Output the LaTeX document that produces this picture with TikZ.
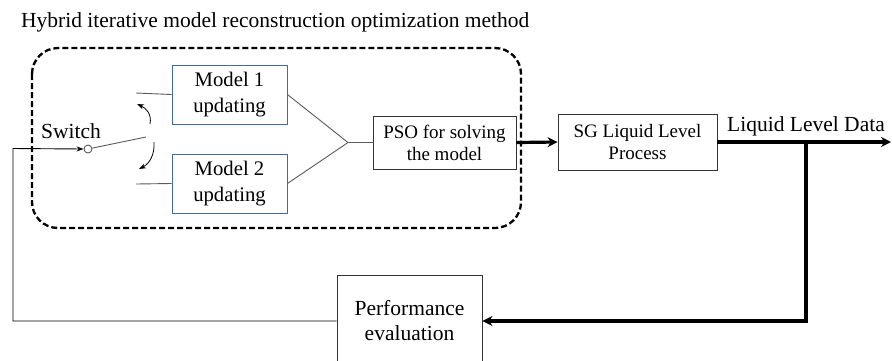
\documentclass[tikz,border=0pt]{standalone}
\usepackage{fontspec}
\setmainfont{Liberation Serif}
\usetikzlibrary{arrows.meta}
\definecolor{modelblue}{RGB}{68,104,176}
\definecolor{wiregray}{RGB}{90,90,90}
\tikzset{
  txt/.style={align=center, inner sep=0pt},
  bigtxt/.style={txt, font=\fontsize{21.5}{25}\selectfont},
  midtxt/.style={txt, font=\fontsize{20.7}{26}\selectfont},
  smalltxt/.style={txt, font=\fontsize{19}{22}\selectfont},
  blockbox/.style={draw=black!80, line width=0.9pt},
  modelbox/.style={draw=modelblue, line width=0.9pt, midtxt},
  wire/.style={draw=wiregray, line width=0.9pt},
  thickwire/.style={draw=black, line width=3.2pt},
  thinarrow/.style={-{Stealth[length=7pt,width=5pt]}},
  bigarrow/.style={-{Stealth[length=10pt,width=10pt]}},
}
\begin{document}
\begin{tikzpicture}[x=1pt,y=-1pt]
\useasboundingbox (0,0) rectangle (892,360);
\clip (0,0) rectangle (892,360);

% title
\node[bigtxt, anchor=west] (title) at (21,22) {Hybrid iterative model reconstruction optimization method};

% dashed frame around the optimization stage
\draw[line width=2.3pt, dash pattern=on 6pt off 3pt, rounded corners=26pt] (32,48) rectangle (521,228);

% blocks
\node[modelbox, minimum width=115pt, minimum height=59pt] (m1) at (229.5,94.5) {Model 1\\updating};
\node[modelbox, minimum width=115pt, minimum height=59pt] (m2) at (229.5,183.5) {Model 2\\updating};
\node[blockbox, smalltxt, minimum width=143pt, minimum height=53pt] (pso) at (444.5,142.5) {PSO for solving\\the model};
\node[blockbox, smalltxt, minimum width=159pt, minimum height=56pt] (sg) at (637.5,142) {SG Liquid Level\\Process};
\node[blockbox, bigtxt, minimum width=145pt, minimum height=92pt] (perf) at (409.5,321) {Performance\\evaluation};

% switch
\node[circle, draw=wiregray, line width=0.9pt, fill=white, minimum size=8pt, inner sep=0pt] (sw) at (88,149) {};
\node[bigtxt] (swlabel) at (71,131) {Switch};
\coordinate (lever) at (146,137);
\coordinate (t1) at (136,93);
\coordinate (t2) at (136,184);
\draw[wire] (sw) -- (lever);
\draw[wire] (t1) -- (m1.west);
\draw[wire] (t2) -- (m2.west);

% switching direction arrows
\draw[black, line width=0.8pt, thinarrow] (150,124) .. controls (152,114) and (146,108) .. (137,104);
\draw[black, line width=0.8pt, thinarrow] (154,142) .. controls (155,155) and (149,164) .. (139,169);

% merge of the two models into the PSO block
\coordinate (merge) at (348,142.5);
\draw[wire] (m1.east) -- (merge);
\draw[wire] (m2.east) -- (merge);
\draw[wire] (merge) -- (pso.west);

% main signal path
\draw[thickwire, bigarrow] (pso.east) -- (sg.west);
\coordinate (out) at (891,142);
\coordinate (branch) at (806,142);
\draw[thickwire, bigarrow] (sg.east) -- (out);
\node[bigtxt] (datalabel) at (806,126) {Liquid Level Data};
\draw[thickwire, bigarrow] (branch) -- (806,321) -- (perf.east);

% feedback to the switch
\draw[black, line width=0.9pt, thinarrow] (perf.west) -- (13,321) -- (13,148.5) -- (sw.west);
\end{tikzpicture}
\end{document}
